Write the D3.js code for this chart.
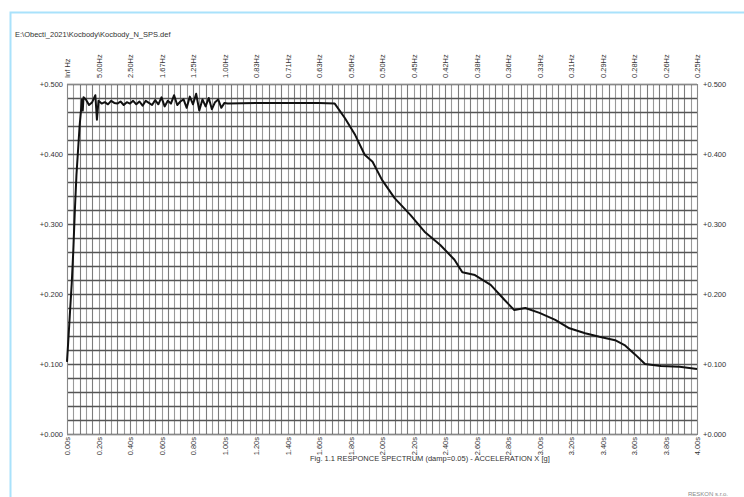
<!DOCTYPE html>
<html>
<head>
<meta charset="utf-8">
<script src="https://cdn.jsdelivr.net/npm/d3@7/dist/d3.min.js"></script>
<style>
  html, body { margin: 0; padding: 0; background: #fff; }
  svg { display: block; font-family: "Liberation Sans", Arial, sans-serif; }
</style>
</head>
<body>
<svg id="chart" width="744" height="497"></svg>
<script>
// Response spectrum: period [s] vs. spectral acceleration [g]
const periods = [
  0.00, 0.01, 0.02, 0.03, 0.04, 0.05, 0.06, 0.07, 0.08, 0.09, 0.095, 0.10, 0.105,
  0.12, 0.14, 0.16, 0.18, 0.19, 0.20, 0.22, 0.24, 0.26, 0.28, 0.30, 0.32, 0.34,
  0.36, 0.38, 0.40, 0.42, 0.44, 0.46, 0.48, 0.50, 0.52, 0.54, 0.56, 0.58, 0.60,
  0.62, 0.64, 0.66, 0.68, 0.70, 0.72, 0.74, 0.76, 0.78, 0.80, 0.82, 0.84, 0.86,
  0.88, 0.90, 0.92, 0.94, 0.96, 0.98, 1.00, 1.02, 1.20, 1.40, 1.60, 1.70, 1.765,
  1.83, 1.89, 1.94, 2.00, 2.08, 2.18, 2.27, 2.37, 2.46, 2.51, 2.59, 2.69, 2.78,
  2.84, 2.91, 3.00, 3.10, 3.19, 3.29, 3.38, 3.48, 3.54, 3.61, 3.67, 3.77, 3.89, 4.00
];
const accelX = [
  0.103, 0.140, 0.178, 0.215, 0.262, 0.320, 0.370, 0.405, 0.440, 0.465, 0.478, 0.462, 0.481,
  0.478, 0.470, 0.474, 0.484, 0.449, 0.476, 0.472, 0.474, 0.471, 0.476, 0.473, 0.472, 0.475,
  0.470, 0.474, 0.472, 0.476, 0.471, 0.475, 0.469, 0.476, 0.473, 0.470, 0.477, 0.471, 0.481,
  0.468, 0.476, 0.472, 0.484, 0.470, 0.475, 0.478, 0.466, 0.482, 0.471, 0.486, 0.462, 0.478,
  0.468, 0.480, 0.464, 0.474, 0.478, 0.466, 0.473, 0.472, 0.473, 0.473, 0.473, 0.472, 0.451,
  0.427, 0.399, 0.389, 0.363, 0.337, 0.313, 0.289, 0.270, 0.249, 0.231, 0.227, 0.213, 0.191,
  0.177, 0.180, 0.173, 0.163, 0.151, 0.144, 0.139, 0.134, 0.127, 0.113, 0.100, 0.097, 0.096, 0.093
];

// Axis tick labels
const periodTicks = [0.0, 0.2, 0.4, 0.6, 0.8, 1.0, 1.2, 1.4, 1.6, 1.8, 2.0,
                     2.2, 2.4, 2.6, 2.8, 3.0, 3.2, 3.4, 3.6, 3.8, 4.0];
const periodLabels = ["0.00s", "0.20s", "0.40s", "0.60s", "0.80s", "1.00s", "1.20s",
                      "1.40s", "1.60s", "1.80s", "2.00s", "2.20s", "2.40s", "2.60s",
                      "2.80s", "3.00s", "3.20s", "3.40s", "3.60s", "3.80s", "4.00s"];
const freqLabels = ["Inf Hz", "5.00Hz", "2.50Hz", "1.67Hz", "1.25Hz", "1.00Hz", "0.83Hz",
                    "0.71Hz", "0.63Hz", "0.56Hz", "0.50Hz", "0.45Hz", "0.42Hz", "0.38Hz",
                    "0.36Hz", "0.33Hz", "0.31Hz", "0.29Hz", "0.28Hz", "0.26Hz", "0.25Hz"];
const accelTicks = [0.0, 0.1, 0.2, 0.3, 0.4, 0.5];
const accelLabels = ["+0.000", "+0.100", "+0.200", "+0.300", "+0.400", "+0.500"];

const fileName = "E:\\Obecti_2021\\Kocbody\\Kocbody_N_SPS.def";
const caption = "Fig. 1.1 RESPONCE SPECTRUM (damp=0.05) - ACCELERATION X [g]";

const svg = d3.select("#chart");
const plot = { left: 67, right: 697, top: 84, bottom: 434 };

const x = d3.scaleLinear().domain([0, 4]).range([plot.left, plot.right]);
const y = d3.scaleLinear().domain([0, 0.5]).range([plot.bottom, plot.top]);

// Page frame
svg.append("path")
  .attr("d", "M10.5,497 L10.5,12.5 L744,12.5")
  .attr("fill", "none")
  .attr("stroke", "#a9e2fb")
  .attr("stroke-width", 2);

// Fine grid: every 0.04 s and every 0.02 g
const vLines = d3.range(0, 101).map(i => i * 0.04);
const hLines = d3.range(0, 26).map(i => i * 0.02);

svg.append("g").selectAll("line").data(vLines).join("line")
  .attr("x1", d => Math.round(x(d)) + 0.5).attr("x2", d => Math.round(x(d)) + 0.5)
  .attr("y1", plot.top).attr("y2", plot.bottom)
  .attr("stroke", (d, i) => i % 2 === 0 ? "#7c7c7c" : "#999")
  .attr("stroke-width", 1.1);

svg.append("g").selectAll("line").data(hLines).join("line")
  .attr("x1", plot.left).attr("x2", plot.right)
  .attr("y1", d => Math.round(y(d)) + 0.5).attr("y2", d => Math.round(y(d)) + 0.5)
  .attr("stroke", "#555")
  .attr("stroke-width", 1.3);

svg.append("rect")
  .attr("x", plot.left + 0.5).attr("y", plot.top + 0.5)
  .attr("width", plot.right - plot.left).attr("height", plot.bottom - plot.top)
  .attr("fill", "none").attr("stroke", "#888");

// Axes (labels only, no domain lines)
const fontSize = 7.5;
const bottomAxis = d3.axisBottom(x).tickValues(periodTicks)
  .tickFormat((d, i) => periodLabels[i]).tickSize(0);
const topAxis = d3.axisTop(x).tickValues(periodTicks)
  .tickFormat((d, i) => freqLabels[i]).tickSize(0);
const leftAxis = d3.axisLeft(y).tickValues(accelTicks)
  .tickFormat((d, i) => accelLabels[i]).tickSize(0).tickPadding(4);
const rightAxis = d3.axisRight(y).tickValues(accelTicks)
  .tickFormat((d, i) => accelLabels[i]).tickSize(0).tickPadding(6);

function styleAxis(g) {
  g.select(".domain").remove();
  g.selectAll("text").attr("fill", "#333").style("font-size", fontSize + "px")
    .style("font-family", '"Liberation Sans", Arial, sans-serif');
}

svg.append("g").attr("transform", `translate(0,${plot.bottom})`).call(bottomAxis).call(styleAxis)
  .selectAll("text")
  .attr("transform", "rotate(-90)")
  .attr("x", -3).attr("y", 0).attr("dy", "0.35em")
  .attr("text-anchor", "end");

svg.append("g").attr("transform", `translate(0,${plot.top})`).call(topAxis).call(styleAxis)
  .selectAll("text")
  .attr("transform", "rotate(-90)")
  .attr("x", 6).attr("y", 0).attr("dy", "0.35em")
  .attr("text-anchor", "start");

svg.append("g").attr("transform", `translate(${plot.left},0)`).call(leftAxis).call(styleAxis);
svg.append("g").attr("transform", `translate(${plot.right},0)`).call(rightAxis).call(styleAxis);

// Spectrum curve
const line = d3.line().x((d, i) => x(periods[i])).y(d => y(d));
svg.append("path")
  .datum(accelX)
  .attr("d", line)
  .attr("fill", "none")
  .attr("stroke", "#111")
  .attr("stroke-width", 2)
  .attr("stroke-linejoin", "round");

// Header and caption
svg.append("text")
  .attr("x", 15).attr("y", 37)
  .style("font-size", "7.5px").attr("fill", "#333")
  .text(fileName);

svg.append("text")
  .attr("x", 310).attr("y", 461)
  .attr("text-anchor", "start")
  .style("font-size", "7.5px").attr("fill", "#333")
  .text(caption);

svg.append("text")
  .attr("x", 688).attr("y", 496)
  .style("font-size", "6px").attr("fill", "#888")
  .text("RESKON s.r.o.");
</script>
</body>
</html>
